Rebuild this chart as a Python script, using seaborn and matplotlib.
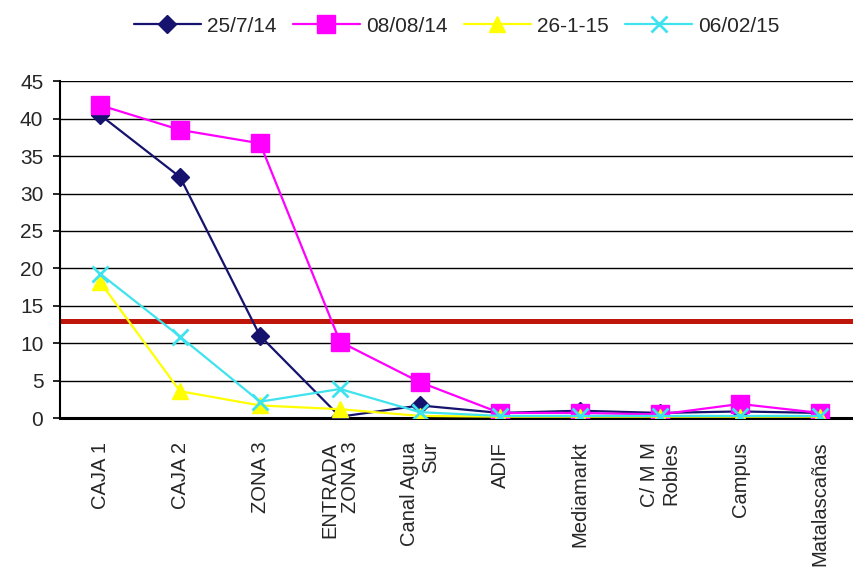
import numpy as np
import pandas as pd
import matplotlib
matplotlib.use("Agg")
import matplotlib.pyplot as plt
import seaborn as sns

categories = ["CAJA 1", "CAJA 2", "ZONA 3", "ENTRADA\nZONA 3", "Canal Agua\nSur",
              "ADIF", "Mediamarkt", "C/ M M\nRobles", "Campus", "Matalascañas"]
s_250714 = [40.5, 32.2, 11.0, 0.2, 1.7, 0.7, 1.0, 0.7, 0.9, 0.7]
s_080814 = [41.8, 38.5, 36.7, 10.2, 4.8, 0.7, 0.7, 0.5, 1.9, 0.7]
s_260115 = [18.2, 3.6, 1.7, 1.2, 0.3, 0.2, 0.2, 0.2, 0.2, 0.2]
s_060215 = [19.3, 10.9, 2.2, 3.9, 0.8, 0.3, 0.3, 0.3, 0.3, 0.3]
series_names = ["25/7/14", "08/08/14", "26-1-15", "06/02/15"]
limit_value = 13

sns.set_style("white")
plt.rcParams["font.family"] = ["Liberation Sans", "DejaVu Sans"]

rows = []
for name, vals in zip(series_names, [s_250714, s_080814, s_260115, s_060215]):
    for i, v in enumerate(vals):
        rows.append({"pos": i, "value": v, "serie": name})
df = pd.DataFrame(rows)

styles = {
    "25/7/14": dict(color="#15136e", marker="D", ms=9, mew=1),
    "08/08/14": dict(color="#ff00ff", marker="s", ms=13, mew=1),
    "26-1-15": dict(color="#ffff00", marker="^", ms=12, mew=1),
    "06/02/15": dict(color="#3ee3ee", marker="x", ms=11, mew=2),
}

fig = plt.figure(figsize=(8.54, 5.8), dpi=100)
ax = fig.add_axes([0.0703, 0.279, 0.9297, 0.581])

# limit line
ax.axhline(limit_value, color="#c0150a", lw=3.6, zorder=1)

for name in series_names:
    st = styles[name]
    sns.lineplot(data=df[df["serie"] == name], x="pos", y="value", ax=ax,
                 color=st["color"], marker=st["marker"], markersize=st["ms"],
                 markeredgewidth=st["mew"], markeredgecolor=st["color"],
                 lw=1.6, label=name, zorder=3)

ax.set_ylim(0, 45)
ax.set_xlim(-0.5, 9.425)
ax.set_yticks(np.arange(0, 46, 5))
ax.set_xticks(range(len(categories)))
ax.set_xticklabels(categories, rotation=90, ha="center", va="top",
                   multialignment="right", fontsize=14.5, linespacing=1.15)
ax.set_xticks(np.arange(-0.5, 9.5, 1), minor=True)
ax.tick_params(axis="x", which="major", length=0, pad=17)
ax.tick_params(axis="x", which="minor", length=6, width=1.2, color="black", direction="out")
ax.tick_params(axis="y", length=5, width=1.2, color="black", direction="out",
               labelsize=15, pad=7, left=True)
ax.grid(axis="y", color="black", lw=1.0)
ax.grid(axis="x", visible=False)
ax.set_axisbelow(True)
ax.set_xlabel("")
ax.set_ylabel("")
for side in ["top", "right"]:
    ax.spines[side].set_visible(False)
ax.spines["left"].set_color("black")
ax.spines["left"].set_linewidth(1.5)
ax.spines["bottom"].set_color("black")
ax.spines["bottom"].set_linewidth(2.2)
ax.spines["bottom"].set_zorder(2)

ax.legend(loc="center", bbox_to_anchor=(0.535, 0.955), bbox_transform=fig.transFigure,
          ncol=4, frameon=False, fontsize=15, handlelength=3.2,
          columnspacing=0.8, handletextpad=0.3)

fig.savefig("out.png", dpi=100)
